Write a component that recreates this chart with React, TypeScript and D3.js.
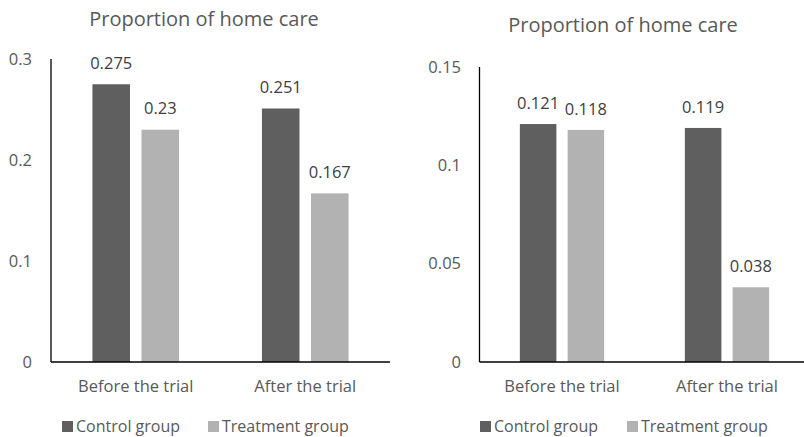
import React, { useEffect, useRef } from "react";
import * as d3 from "d3";

const categories = ["Before the trial", "After the trial"];
const seriesNames = ["Control group", "Treatment group"];
const leftControl = [0.275, 0.251];
const leftTreatment = [0.23, 0.167];
const rightControl = [0.121, 0.119];
const rightTreatment = [0.118, 0.038];
const leftTicks = [0, 0.1, 0.2, 0.3];
const rightTicks = [0, 0.05, 0.1, 0.15];
const leftTickLabels = ["0", "0.1", "0.2", "0.3"];
const rightTickLabels = ["0", "0.05", "0.1", "0.15"];
const titleText = "Proportion of home care";

const colors = ["#5f5f5f", "#b2b2b2"];
const textColor = "#595959";
const FONT = "'Open Sans', sans-serif";

type PanelCfg = {
  x0: number;
  x1: number;
  yTop: number;
  yZero: number;
  max: number;
  ticks: number[];
  tickLabels: string[];
  control: number[];
  treatment: number[];
  titleX: number;
  titleY: number;
  tickRight: number;
  legendX: number;
  legendGap: number;
};

function drawPanel(g: d3.Selection<SVGGElement, unknown, null, undefined>, c: PanelCfg) {
  const y = d3.scaleLinear().domain([0, c.max]).range([c.yZero, c.yTop]);
  const x = d3.scaleBand().domain(categories).range([c.x0, c.x1]).paddingInner(0).paddingOuter(0);
  const band = x.bandwidth();
  const bw = band * 0.2215;
  const gap = band * 0.068;
  const groupW = bw * 2 + gap;

  g.append("text")
    .attr("x", c.titleX)
    .attr("y", c.titleY)
    .attr("dy", "0.35em")
    .attr("text-anchor", "middle")
    .attr("font-family", FONT)
    .attr("font-size", 20)
    .attr("fill", textColor)
    .text(titleText);

  c.ticks.forEach((t, i) => {
    g.append("text")
      .attr("x", c.tickRight)
      .attr("y", y(t))
      .attr("dy", "0.35em")
      .attr("text-anchor", "end")
      .attr("font-family", FONT)
      .attr("font-size", 16.5)
      .attr("fill", textColor)
      .text(c.tickLabels[i]);
  });

  const series = [c.control, c.treatment];
  series.forEach((vals, si) => {
    categories.forEach((cat, ci) => {
      const center = (x(cat) as number) + band / 2;
      const bx = center - groupW / 2 + si * (bw + gap);
      g.append("rect")
        .attr("x", bx)
        .attr("y", y(vals[ci]))
        .attr("width", bw)
        .attr("height", c.yZero - y(vals[ci]))
        .attr("fill", colors[si]);
      g.append("text")
        .attr("x", bx + bw / 2)
        .attr("y", y(vals[ci]) - 21)
        .attr("dy", "0.35em")
        .attr("text-anchor", "middle")
        .attr("font-family", FONT)
        .attr("font-size", 16.5)
        .attr("fill", "#404040")
        .text(String(vals[ci]));
    });
  });

  g.append("line")
    .attr("x1", c.x0)
    .attr("x2", c.x0)
    .attr("y1", c.yTop)
    .attr("y2", c.yZero)
    .attr("stroke", "#000")
    .attr("stroke-width", 1.3);
  g.append("line")
    .attr("x1", c.x0)
    .attr("x2", c.x1)
    .attr("y1", c.yZero)
    .attr("y2", c.yZero)
    .attr("stroke", "#000")
    .attr("stroke-width", 1.3);

  categories.forEach((cat) => {
    g.append("text")
      .attr("x", (x(cat) as number) + band / 2)
      .attr("y", c.yZero + 24)
      .attr("dy", "0.35em")
      .attr("text-anchor", "middle")
      .attr("font-family", FONT)
      .attr("font-size", 16.5)
      .attr("fill", textColor)
      .text(cat);
  });

  seriesNames.forEach((name, i) => {
    const lx = c.legendX + i * c.legendGap;
    g.append("rect")
      .attr("x", lx)
      .attr("y", 421)
      .attr("width", 11)
      .attr("height", 11)
      .attr("fill", colors[i]);
    g.append("text")
      .attr("x", lx + 14)
      .attr("y", 426)
      .attr("dy", "0.35em")
      .attr("font-family", FONT)
      .attr("font-size", 16)
      .attr("fill", textColor)
      .text(name);
  });
}

export default function App() {
  const ref = useRef<SVGSVGElement>(null);
  useEffect(() => {
    const svg = d3.select(ref.current);
    svg.selectAll("*").remove();
    svg.append("rect").attr("width", 804).attr("height", 437).attr("fill", "#fff");
    const gl = svg.append("g");
    drawPanel(gl as any, {
      x0: 51,
      x1: 390,
      yTop: 59,
      yZero: 362,
      max: 0.3,
      ticks: leftTicks,
      tickLabels: leftTickLabels,
      control: leftControl,
      treatment: leftTreatment,
      titleX: 204,
      titleY: 19,
      tickRight: 32,
      legendX: 62,
      legendGap: 146,
    });
    const gr = svg.append("g");
    drawPanel(gr as any, {
      x0: 479.5,
      x1: 809.5,
      yTop: 67,
      yZero: 362,
      max: 0.15,
      ticks: rightTicks,
      tickLabels: rightTickLabels,
      control: rightControl,
      treatment: rightTreatment,
      titleX: 623,
      titleY: 25,
      tickRight: 461,
      legendX: 480,
      legendGap: 147,
    });
  }, []);
  return (
    <svg
      ref={ref}
      width={804}
      height={437}
      style={{ position: "absolute", left: 0, top: 0, display: "block" }}
    />
  );
}
